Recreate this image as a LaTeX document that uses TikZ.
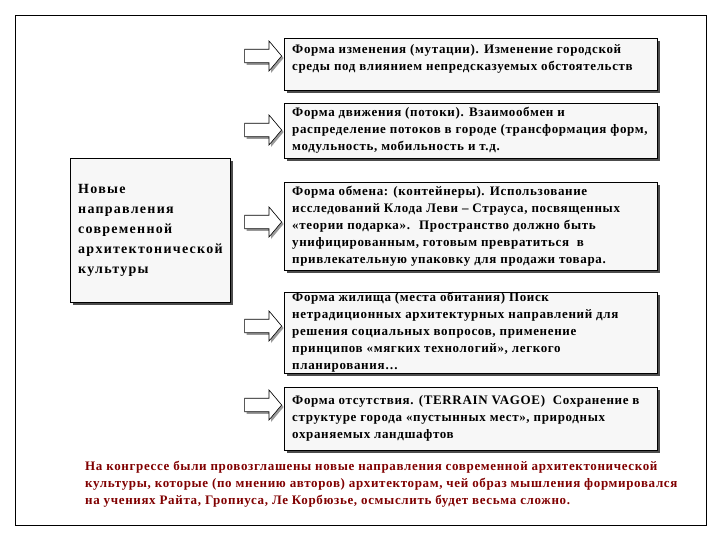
\documentclass[tikz,border=0pt]{standalone}
\usepackage{fontspec}
\setmainfont{Liberation Serif}
\usetikzlibrary{shapes.arrows,shadows}
\begin{document}
\begin{tikzpicture}[x=1pt,y=-1pt,
  bx/.style={draw=black,line width=0.8pt,fill=gray!6,anchor=north west,inner sep=0pt,
    drop shadow={shadow xshift=3pt,shadow yshift=-3pt,fill=black!70,opacity=1}},
  txt/.style={anchor=north west,align=left,font=\bfseries\fontsize{13}{17}\selectfont\addfontfeature{LetterSpace=5},inner sep=0pt},
  arr/.style={single arrow,draw=black,fill=white,line width=0.6pt,minimum height=37pt,minimum width=30pt,
    single arrow head extend=4pt,single arrow tip angle=100,inner sep=3pt,
    drop shadow={shadow xshift=2pt,shadow yshift=-2pt,fill=black!40,opacity=1}}]
\useasboundingbox (0,0) rectangle (720,540);
\draw[line width=0.6pt] (15,15) rectangle (706,525);
\node[bx,minimum width=160pt,minimum height=144pt] (L) at (70,158) {};
\node[txt,font=\bfseries\fontsize{14}{20}\selectfont\addfontfeature{LetterSpace=9}] (Lt) at (78,184) {Новые\\направления\\современной\\архитектонической\\культуры};
\foreach \n/\y/\h in {a/38/52,b/103/55,c/182/88,d/292/81,e/387/63}{
  \node[bx,minimum width=373pt,minimum height=\h pt] (\n) at (284,\y) {};
}
\foreach \n/\yy in {a/56,b/130,c/222,d/326,e/405}{
  \node[arr,anchor=east] (ar\n) at (282,\yy) {};
}
\node[txt] at (292,44) {Форма изменения (мутации). Изменение городской\\среды под влиянием непредсказуемых обстоятельств};
\node[txt] at (292,107) {Форма движения (потоки). Взаимообмен и\\распределение потоков в городе (трансформация форм,\\модульность, мобильность и т.д.};
\node[txt] at (292,186) {Форма обмена: (контейнеры). Использование\\исследований Клода Леви – Страуса, посвященных\\«теории подарка». \ Пространство должно быть\\унифицированным, готовым превратиться \ в\\привлекательную упаковку для продажи товара.};
\node[txt] at (292,292) {Форма жилища (места обитания) Поиск\\нетрадиционных архитектурных направлений для\\решения социальных вопросов, применение\\принципов «мягких технологий», легкого\\планирования…};
\node[txt] at (292,395) {Форма отсутствия. (TERRAIN VAGOE) \ Сохранение в\\структуре города «пустынных мест», природных\\охраняемых ландшафтов};
\node[txt,text=red!50!black] (bot) at (85,461) {На конгрессе были провозглашены новые направления современной архитектонической\\культуры, которые (по мнению авторов) архитекторам, чей образ мышления формировался\\на учениях Райта, Гропиуса, Ле Корбюзье, осмыслить будет весьма сложно.};
\end{tikzpicture}
\end{document}
